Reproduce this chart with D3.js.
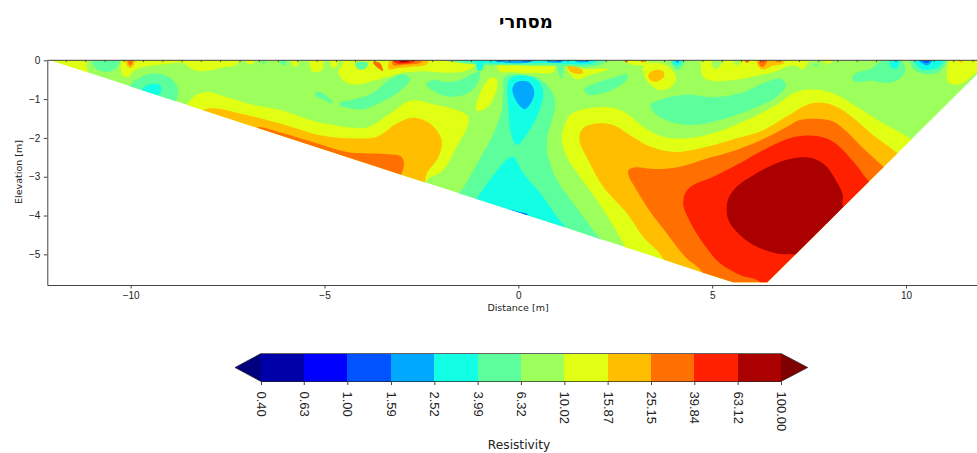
<!DOCTYPE html>
<html>
<head>
<meta charset="utf-8">
<script src="https://cdn.jsdelivr.net/npm/d3@7"></script>
<style>
  body { margin: 0; background: #fff; }
  svg { display: block; font-family: "DejaVu Sans", sans-serif; }
  .domain, .tick line { stroke: #444; }
  .tick text { fill: #222; }
</style>
</head>
<body>
<div id="chartContainer"></div>
<script>
const chartTitle = 'מסחרי';
const xTicks = [-10, -5, 0, 5, 10];
const yTicks = [0, -1, -2, -3, -4, -5];
const levels = [0.40, 0.63, 1.00, 1.59, 2.52, 3.99, 6.32, 10.02, 15.87, 25.15, 39.84, 63.12, 100.00];
const bandColors = ['#00007f', '#0000a8', '#0000ff', '#0054ff', '#00a8ff', '#12ffe5', '#5cff9c',
    '#9cff5c', '#e1ff12', '#ffbf00', '#ff7000', '#ff2000', '#aa0000', '#7f0000'];

// electrodes along the surface [m]
const sensors = [-11.66, -11.16, -10.66, -10.17, -9.67, -9.17, -8.67, -8.18, -7.68, -7.18, -6.68, -6.19, -5.69,
    -5.19, -4.69, -4.2, -3.7, -3.2, -2.7, -2.21, -1.71, -1.21, -0.71, -0.22, 0.28, 0.78, 1.28, 1.77, 2.27, 2.77,
    3.27, 3.77, 4.26, 4.76, 5.26, 5.76, 6.25, 6.75, 7.25, 7.75, 8.24, 8.74, 9.24, 9.74, 10.23, 10.73, 11.23, 11.73];

// outline of the inverted section, distance / elevation in metres
const sectionEdge = [[-12.07, 0], [-2.62, -3.08], [1.2, -4.3], [2.06, -4.59], [3.74, -5.13], [4.73, -5.46],
    [5.54, -5.72], [6.42, -5.72], [12.2, 0]];

// contour rings per resistivity band
const yellowRings = [
    [[1.12, -2.05], [1.15, -1.8], [1.33, -1.41], [1.76, -1.24], [2.44, -1.22], [2.8, -1.37], [3.22, -1.71], [3.73, -1.97],
     [4.34, -2.01], [5.02, -1.88], [5.89, -1.54], [6.57, -1.2], [7.18, -0.81], [7.6, -0.75], [8.12, -0.85], [8.73, -1.2],
     [9.33, -1.58], [10.1, -2.01], [10.87, -2.57], [9.84, -6.18], [3.14, -6.18], [2.78, -4.89], [2.36, -4.12], [2.02, -3.6],
     [1.59, -3.0], [1.25, -2.49]],
    [[-8.55, -1.15], [-8.38, -0.94], [-8.04, -0.82], [-7.52, -0.95], [-6.83, -1.15], [-6.06, -1.3], [-5.37, -1.54], [-4.78, -1.67],
     [-3.91, -1.73], [-3.31, -1.37], [-2.79, -1.04], [-2.28, -1.11], [-1.33, -1.41], [-1.29, -1.62], [-1.59, -2.23], [-1.94, -2.83],
     [-2.41, -3.14], [-2.53, -4.12], [-6.92, -2.57], [-8.86, -1.54]],
    [[-1.1, -1.26], [-0.94, -0.75], [-0.73, -0.45], [-0.56, -0.49], [-0.56, -0.75], [-0.77, -1.18], [-0.99, -1.31]],
    [[-11.18, 0.1], [-11.13, -0.2], [-11.08, -0.35], [-11.1, -0.7], [-12.3, -0.5], [-12.3, 0.1]],
    [[-10.22, 0.09], [-10.25, -0.23], [-10.21, -0.4], [-10.06, -0.42], [-9.88, -0.25], [-9.54, -0.15], [-9.11, -0.1], [-8.65, -0.07],
     [-8.42, -0.23], [-8.16, -0.28], [-7.65, -0.19], [-7.26, -0.1], [-7.18, 0.09]],
    [[-7.05, 0.05], [-6.79, 0.05], [-6.84, -0.09], [-6.99, -0.09]],
    [[-5.84, 0.05], [-5.68, 0.05], [-5.71, -0.15], [-5.81, -0.15]],
    [[-5.37, 0.05], [-5.06, 0.05], [-5.06, -0.25], [-5.22, -0.31], [-5.35, -0.25]],
    [[-4.86, 0.05], [-4.65, 0.05], [-4.68, -0.15], [-4.78, -0.2]],
    [[-4.65, -0.3], [-4.57, -0.15], [-4.47, 0.06], [-1.04, 0.06], [-1.07, -0.06], [-1.25, -0.23], [-1.68, -0.32], [-2.46, -0.28],
     [-2.97, -0.32], [-3.31, -0.41], [-3.74, -0.53], [-4.08, -0.62], [-4.43, -0.58]],
    [[-0.55, -0.12], [-0.34, -0.1], [0.3, -0.15], [0.89, -0.1], [0.95, -0.15], [0.89, -0.3], [0.3, -0.33], [-0.21, -0.3], [-0.47, -0.3]],
    [[1.25, -0.1], [1.59, -0.21], [2.32, -0.23], [1.85, -0.38], [1.51, -0.49], [1.28, -0.29]],
    [[3.22, -0.15], [3.27, -0.46], [3.45, -0.66], [3.65, -0.77], [3.91, -0.71], [4.07, -0.46], [3.91, -0.2], [3.65, -0.07], [3.4, -0.07]],
    [[2.6, 0.05], [3.4, 0.05], [3.3, -0.1], [2.9, -0.1]],
    [[4.78, 0.05], [4.71, -0.23], [4.78, -0.45], [4.99, -0.53], [5.55, -0.51], [6.15, -0.4], [6.67, -0.28], [6.97, -0.15], [7.19, -0.15],
     [7.32, -0.23], [7.44, -0.1], [7.5, 0.05]],
    [[7.83, 0.05], [8.14, 0.05], [8.05, -0.07], [7.9, -0.07]],
    [[11.18, 0.06], [11.05, -0.4], [11.1, -0.58], [11.39, -0.62], [11.7, -0.41], [12.16, 0.05]]
];
const goldRings = [
    [[1.59, -1.88], [1.72, -1.71], [2.11, -1.62], [2.45, -1.67], [2.88, -1.93], [3.31, -2.18], [3.83, -2.34], [4.17, -2.36],
     [4.86, -2.23], [5.63, -2.01], [6.32, -1.8], [6.92, -1.45], [7.44, -1.15], [7.78, -1.09], [8.21, -1.2], [8.64, -1.49],
     [9.15, -1.93], [9.76, -2.38], [10.36, -2.96], [9.33, -6.18], [3.91, -6.18], [3.74, -5.12], [3.22, -4.55], [2.8, -3.94],
     [2.19, -3.26], [1.76, -2.49], [1.59, -2.13]],
    [[-8.12, -1.28], [-7.78, -1.24], [-7.18, -1.37], [-6.49, -1.54], [-5.8, -1.73], [-5.11, -1.93], [-4.34, -2.01], [-3.65, -1.97],
     [-3.14, -1.63], [-2.71, -1.48], [-2.28, -1.63], [-1.98, -2.05], [-2.06, -2.49], [-2.36, -2.91], [-2.41, -3.13], [-2.66, -3.99],
     [-5.63, -2.96], [-8.34, -1.54]],
    [[-10.12, 0.05], [-9.88, 0.05], [-9.93, -0.15], [-10.0, -0.2], [-10.09, -0.15]],
    [[-3.35, -0.23], [-3.28, 0.05], [-2.33, 0.05], [-2.36, -0.1], [-2.79, -0.17], [-3.1, -0.2]],
    [[1.25, -0.12], [1.38, -0.12], [1.64, -0.25], [1.67, -0.33], [1.54, -0.35], [1.33, -0.28]],
    [[3.35, -0.38], [3.53, -0.25], [3.74, -0.29], [3.76, -0.42], [3.57, -0.55], [3.4, -0.51]],
    [[6.15, 0.05], [6.88, 0.05], [6.83, -0.08], [6.54, -0.15], [6.34, -0.24], [6.2, -0.17]],
    [[11.3, 0.05], [11.5, 0.05], [11.42, -0.06]]
];
const orangeRings = [
    [[2.84, -2.83], [2.97, -2.76], [3.57, -2.8], [4.17, -2.74], [4.86, -2.53], [5.63, -2.31], [6.32, -2.03], [6.92, -1.72], [7.26, -1.54],
     [7.78, -1.51], [8.12, -1.58], [8.47, -1.84], [8.9, -2.27], [9.39, -2.72], [9.84, -3.21], [9.07, -6.18], [4.94, -6.18], [4.73, -5.45],
     [4.3, -5.06], [3.83, -4.46], [3.4, -3.9], [3.05, -3.34], [2.84, -2.96]],
    [[-6.74, -1.73], [-6.06, -1.88], [-5.2, -2.14], [-4.43, -2.36], [-3.31, -2.42], [-3.01, -2.49], [-2.95, -2.7], [-3.01, -2.91],
     [-3.1, -3.34], [-5.63, -2.83], [-6.79, -1.92]],
    [[-10.06, 0.05], [-9.93, 0.05], [-9.97, -0.1], [-10.03, -0.13]],
    [[-3.75, -0.05], [-3.57, -0.07], [-3.49, -0.28], [-3.62, -0.2]],
    [[-3.23, 0.05], [-2.43, 0.05], [-2.53, -0.06], [-2.92, -0.11], [-3.23, -0.12]],
    [[2.72, 0.05], [2.85, 0.05], [2.8, -0.06]],
    [[3.1, 0.05], [3.3, 0.05], [3.2, -0.05]],
    [[6.22, 0.05], [6.43, 0.05], [6.38, -0.1], [6.28, -0.17], [6.2, -0.07]],
    [[6.6, 0.05], [6.78, 0.05], [6.68, -0.05]],
    [[5.8, 0.05], [5.99, 0.05], [5.9, -0.07]]
];
const redRings = [
    [[4.26, -3.6], [4.3, -3.43], [4.47, -3.24], [5.03, -3.0], [5.63, -2.7], [6.32, -2.31], [7.09, -1.98], [7.69, -1.95], [8.12, -2.1],
     [8.64, -2.61], [9.0, -3.08], [9.46, -3.6], [8.55, -6.18], [6.36, -6.18], [6.23, -5.71], [5.72, -5.53], [5.2, -5.23], [4.77, -4.72],
     [4.47, -4.24], [4.26, -3.77]],
    [[-3.2, 0.05], [-2.61, 0.05], [-2.77, -0.06], [-2.95, -0.08], [-3.15, -0.07]],
    [[6.28, 0.05], [6.36, 0.05], [6.32, -0.06]]
];
const darkRedRings = [
    [[5.37, -3.86], [5.42, -3.56], [5.63, -3.26], [6.06, -2.96], [6.66, -2.65], [7.18, -2.51], [7.61, -2.53], [7.95, -2.74], [8.21, -3.13],
     [8.37, -3.47], [8.37, -3.77], [8.94, -4.5], [7.91, -5.53], [7.26, -5.04], [6.66, -4.98], [6.06, -4.76], [5.63, -4.42], [5.42, -4.12]],
    [[-3.1, 0.05], [-2.74, 0.05], [-2.9, -0.05], [-3.05, -0.04]]
];
const tealRings = [
    [[-0.34, -0.42], [0.13, -0.38], [0.6, -0.51], [0.95, -1.02], [0.74, -2.05], [0.77, -2.49], [0.99, -3.08], [1.42, -3.69], [1.93, -4.37],
     [2.11, -4.59], [2.75, -5.28], [2.11, -5.92], [-1.76, -4.63], [-1.89, -3.73], [-1.5, -3.39], [-1.07, -2.67], [-0.64, -1.88], [-0.43, -1.28],
     [-0.39, -0.77]],
    [[-11.0, 0.1], [-10.92, -0.19], [-10.66, -0.3], [-10.4, -0.23], [-10.25, 0.1]],
    [[-10.06, -0.71], [-9.71, -0.42], [-9.37, -0.34], [-8.98, -0.45], [-8.78, -0.75], [-8.85, -1.1], [-9.24, -1.67], [-10.14, -1.28]],
    [[-5.24, -0.84], [-5.11, -0.82], [-4.91, -0.95], [-4.78, -1.08], [-4.86, -1.1], [-4.98, -1.02], [-5.19, -0.95]],
    [[-4.6, -1.09], [-4.26, -1.01], [-3.75, -0.84], [-3.31, -0.49], [-2.97, -0.36], [-2.79, -0.49], [-3.05, -0.79], [-3.48, -1.05],
     [-4.0, -1.26], [-4.43, -1.22], [-4.6, -1.18]],
    [[-2.38, -0.62], [-2.2, -0.51], [-1.85, -0.56], [-1.5, -0.51], [-1.14, -0.33], [-0.99, -0.3], [-1.04, -0.56], [-1.25, -0.82],
     [-1.63, -0.94], [-2.02, -0.88]],
    [[1.7, -0.75], [2.02, -0.58], [2.45, -0.45], [2.8, -0.36], [2.8, -0.49], [2.45, -0.75], [2.02, -0.88], [1.8, -0.88]],
    [[3.4, -1.15], [3.65, -1.02], [4.34, -0.89], [5.03, -0.95], [5.72, -0.85], [6.41, -0.55], [6.79, -0.48], [6.9, -0.64], [6.66, -0.94],
     [6.06, -1.24], [5.2, -1.54], [4.51, -1.67], [3.91, -1.58], [3.53, -1.37]],
    [[-6.62, 0.05], [-6.53, 0.05], [-6.57, -0.13]],
    [[-6.15, 0.05], [-5.97, 0.05], [-6.02, -0.12], [-6.1, -0.12]],
    [[-4.21, -0.06], [-3.88, -0.06], [-3.93, -0.2], [-4.13, -0.23]],
    [[-2.1, 0.05], [2.3, 0.05], [2.1, -0.12], [0.8, -0.14], [-0.3, -0.13], [-1.2, -0.1]],
    [[1.02, -0.04], [1.18, -0.04], [1.15, -0.3], [1.1, -0.48], [1.05, -0.38]],
    [[3.92, 0.05], [4.3, 0.05], [4.22, -0.17], [4.1, -0.25], [4.0, -0.17]],
    [[7.63, -0.1], [7.72, -0.1], [7.68, -0.17]],
    [[8.6, -0.45], [8.73, -0.32], [9.07, -0.23], [9.29, -0.06], [9.58, 0.06], [9.84, 0.06], [9.98, -0.28], [9.84, -0.47], [9.58, -0.58],
     [9.07, -0.53], [8.73, -0.56]],
    [[10.11, 0.05], [10.2, -0.23], [10.54, -0.36], [10.88, -0.28], [11.05, 0.05]]
];
const cyanRings = [
    [[-1.07, -3.56], [-0.77, -3.13], [-0.26, -2.53], [-0.13, -2.49], [0.13, -2.91], [0.64, -3.52], [0.99, -4.03], [1.2, -4.29], [1.46, -4.89],
     [-0.47, -4.63], [-1.38, -3.99]],
    [[-0.26, -0.55], [-0.13, -0.42], [0.22, -0.4], [0.56, -0.59], [0.64, -0.94], [0.39, -1.62], [-0.04, -2.18], [-0.17, -1.97], [-0.26, -1.2]],
    [[-9.71, -0.75], [-9.5, -0.62], [-9.28, -0.62], [-9.2, -0.75], [-9.28, -0.89], [-9.5, -1.28], [-9.89, -1.02]],
    [[-1.07, -0.02], [-0.91, -0.02], [-0.94, -0.25], [-1.04, -0.27]],
    [[-1.9, 0.05], [2.1, 0.05], [1.9, -0.08], [0.8, -0.07], [-0.2, -0.08], [-1.0, -0.06]],
    [[3.97, 0.05], [4.22, 0.05], [4.15, -0.12], [4.03, -0.12]],
    [[9.58, 0.05], [9.81, 0.05], [9.79, -0.17], [9.68, -0.22], [9.6, -0.15]],
    [[10.2, 0.05], [10.37, -0.22], [10.58, -0.25], [10.88, -0.15], [10.97, 0.05]]
];
const blueRings = [
    [[-0.15, -0.71], [-0.04, -0.56], [0.26, -0.56], [0.41, -0.79], [0.35, -1.05], [0.17, -1.26], [0, -1.13], [-0.13, -0.88]],
    [[-0.6, 0.05], [0.5, 0.05], [0.3, -0.05], [-0.4, -0.05]],
    [[0.6, 0.05], [1.3, 0.05], [1.1, -0.05], [0.8, -0.05]],
    [[1.4, 0.05], [2.0, 0.05], [1.8, -0.04], [1.5, -0.04]],
    [[4.03, 0.05], [4.17, 0.05], [4.1, -0.07]],
    [[10.28, 0.05], [10.54, -0.13], [10.71, 0.05]]
];
const royalRings = [
    [[-0.27, -3.85], [-0.01, -3.9], [0.25, -3.97], [0.04, -4.01], [-0.27, -3.91]],
    [[-0.7, 0.05], [-0.3, 0.05], [-0.5, -0.04]],
    [[0.0, 0.05], [0.4, 0.05], [0.2, -0.04]],
    [[0.9, 0.05], [1.2, 0.05], [1.05, -0.04]],
    [[10.33, 0.05], [10.54, -0.07], [10.66, 0.05]]
];
const greenNotches = [
    [[5.0, 0.05], [5.3, 0.05], [5.2, -0.15], [5.1, -0.23], [5.0, -0.13]],
    [[5.55, 0.05], [5.72, 0.05], [5.68, -0.1], [5.6, -0.12]]
];

const svgWidth = 977;
const svgHeight = 453;

const svg = d3.select('#chartContainer')
    .append('svg')
    .attr('width', svgWidth)
    .attr('height', svgHeight);

const xScale = d3.scaleLinear().domain([-12.15, 11.83]).range([47.3, 977]);
const yScale = d3.scaleLinear().domain([-5.79, 0]).range([285, 60.3]);
const colorScale = d3.scaleThreshold().domain(levels).range(bandColors);
const barScale = d3.scaleLog().domain([levels[0], levels[levels.length - 1]]).range([261, 781]);

const ringPath = d3.line()
    .x(d => xScale(d[0]))
    .y(d => yScale(d[1]))
    .curve(d3.curveCatmullRomClosed.alpha(0.5));
const edgePath = d3.line()
    .x(d => xScale(d[0]))
    .y(d => yScale(d[1]));

svg.append('clipPath')
    .attr('id', 'section')
    .append('path')
    .attr('d', edgePath(sectionEdge) + 'Z');

const section = svg.append('g').attr('clip-path', 'url(#section)');

section.append('path')
    .attr('d', edgePath(sectionEdge) + 'Z')
    .attr('fill', colorScale(8));

// painted in order, warm bands nest inwards, then the cool ones
const layers = [
    { value: 12, rings: yellowRings },
    { value: 20, rings: goldRings },
    { value: 30, rings: orangeRings },
    { value: 50, rings: redRings },
    { value: 80, rings: darkRedRings },
    { value: 5, rings: tealRings },
    { value: 3, rings: cyanRings },
    { value: 2, rings: blueRings },
    { value: 1.2, rings: royalRings },
    { value: 8, rings: greenNotches }
];

layers.forEach(layer => {
    section.selectAll(null)
        .data(layer.rings)
        .enter().append('path')
        .attr('d', ringPath)
        .attr('fill', colorScale(layer.value));
});

const xAxis = d3.axisBottom(xScale).tickValues(xTicks).tickFormat(d3.format('d'))
    .tickSize(3.5).tickSizeOuter(0).tickPadding(3.5);
svg.append('g')
    .attr('transform', `translate(0, ${yScale.range()[0]})`)
    .style('font-size', '10px')
    .call(xAxis);

const yAxis = d3.axisLeft(yScale).tickValues(yTicks).tickFormat(d3.format('d'))
    .tickSize(3.5).tickSizeOuter(0).tickPadding(3.5);
svg.append('g')
    .attr('transform', `translate(${xScale.range()[0]}, 0)`)
    .style('font-size', '10px')
    .call(yAxis);

// top spine with the electrode marks
svg.append('line')
    .attr('x1', xScale.range()[0])
    .attr('x2', xScale.range()[1])
    .attr('y1', yScale(0))
    .attr('y2', yScale(0))
    .attr('stroke', '#444');

svg.selectAll('.sensor')
    .data(sensors)
    .enter().append('line')
    .attr('class', 'sensor')
    .attr('x1', d => xScale(d))
    .attr('x2', d => xScale(d))
    .attr('y1', yScale(0))
    .attr('y2', yScale(0) + 1.5)
    .attr('stroke', '#333');

svg.append('text')
    .attr('x', 518)
    .attr('y', 311)
    .attr('text-anchor', 'middle')
    .attr('font-size', 9.5)
    .attr('fill', '#222')
    .text('Distance [m]');

svg.append('text')
    .attr('x', -172)
    .attr('y', 22)
    .attr('text-anchor', 'middle')
    .attr('transform', 'rotate(-90)')
    .attr('font-size', 9.5)
    .attr('fill', '#222')
    .text('Elevation [m]');

svg.append('text')
    .attr('x', 526)
    .attr('y', 28)
    .attr('text-anchor', 'middle')
    .attr('font-size', 18)
    .attr('font-weight', 'bold')
    .attr('fill', '#000')
    .text(chartTitle);

// colourbar
const barTop = 353.5;
const barBottom = 381.5;
const barMid = (barTop + barBottom) / 2;
const colorbar = svg.append('g');

colorbar.selectAll('.band')
    .data(d3.pairs(levels))
    .enter().append('rect')
    .attr('class', 'band')
    .attr('x', d => barScale(d[0]))
    .attr('y', barTop)
    .attr('width', d => barScale(d[1]) - barScale(d[0]))
    .attr('height', barBottom - barTop)
    .attr('shape-rendering', 'crispEdges')
    .attr('fill', d => colorScale(d[0]));

colorbar.append('path')
    .attr('d', `M${barScale(levels[0])},${barTop}L235,${barMid}L${barScale(levels[0])},${barBottom}Z`)
    .attr('fill', bandColors[0]);
colorbar.append('path')
    .attr('d', `M781,${barTop}L807.7,${barMid}L781,${barBottom}Z`)
    .attr('fill', bandColors[bandColors.length - 1]);

colorbar.append('path')
    .attr('d', `M261,${barTop}L235,${barMid}L261,${barBottom}L781,${barBottom}L807.7,${barMid}L781,${barTop}Z`)
    .attr('fill', 'none')
    .attr('stroke', '#222')
    .attr('stroke-width', 0.7);

const barAxis = d3.axisBottom(barScale).tickValues(levels).tickFormat(d3.format('.2f')).tickSize(3.5);
const barAxisG = svg.append('g')
    .attr('transform', `translate(0, ${barBottom})`)
    .style('font-size', '13px')
    .call(barAxis);
barAxisG.select('.domain').remove();
barAxisG.selectAll('.tick text')
    .attr('x', 0)
    .attr('y', 0)
    .attr('dy', '0.35em')
    .attr('text-anchor', 'start')
    .attr('transform', 'translate(0, 10) rotate(90)');

svg.append('text')
    .attr('x', 519)
    .attr('y', 449)
    .attr('text-anchor', 'middle')
    .attr('font-size', 12.2)
    .attr('fill', '#222')
    .text('Resistivity');
</script>
</body>
</html>
